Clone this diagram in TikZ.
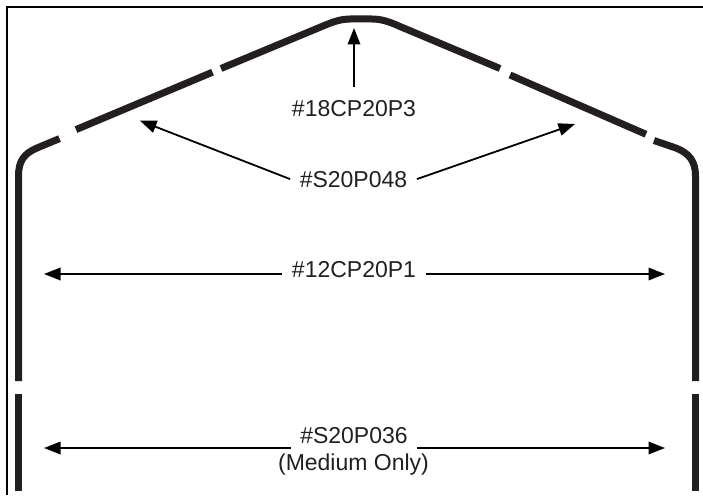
\documentclass[tikz,border=0pt]{standalone}
\usepackage{fontspec}
\setmainfont{Liberation Sans}
\usetikzlibrary{arrows.meta}
\definecolor{ink}{HTML}{231F20}
\tikzset{
  x=1pt,y=-1pt,
  hood/.style={draw=ink,line width=7pt,line cap=butt,line join=round},
  framing/.style={draw=black,line width=2pt,line join=miter},
  pointer/.style={draw=black,line width=1.8pt,-{Triangle[length=16.5pt,width=12.5pt]}},
  lab/.style={font=\fontsize{23}{27}\selectfont,text=ink,anchor=base,inner xsep=9.5pt,inner ysep=0pt},
}
\begin{document}
\begin{tikzpicture}
\useasboundingbox (0,0) rectangle (703,495);
% frame
\draw[framing] (703,7) -- (7,7) -- (7,495);
% hood outline
\draw[hood] (18.5,381) -- (18.5,176) .. controls (18.5,161) and (24,153.5) .. (37,148) -- (59.5,138.6);
\draw[hood] (76,129.6) -- (212.5,72.2);
\draw[hood] (221,68.5) -- (323,26) .. controls (335,21) and (342,19) .. (350,19) -- (372,19)
  .. controls (380,19) and (388,21) .. (400,26.5) -- (500,68.5);
\draw[hood] (510,75) -- (646,134.3);
\draw[hood] (654,140.5) -- (676.7,148.3) .. controls (689,153.5) and (695.5,161) .. (695.5,176) -- (695.5,381);
\draw[hood] (18.5,393.5) -- (18.5,491);
\draw[hood] (695.5,393.5) -- (695.5,491);
% labels
\node[lab,inner ysep=13pt] (n18) at (354,116) {\#18CP20P3};
\node[lab] (n48) at (353.5,187) {\#S20P048};
\node[lab] (n12) at (354,277) {\#12CP20P1};
\node[lab] (n36) at (354,443) {\#S20P036};
\node[lab] (med) at (353.5,470) {(Medium Only)};
% arrow targets
\coordinate (apex) at (354,28);
\coordinate (hl) at (140,120.7);
\coordinate (hr) at (575,124);
\coordinate (a1) at (44,274);
\coordinate (b1) at (665,274);
\coordinate (a2) at (44,448);
\coordinate (b2) at (665,448);
% arrows
\draw[pointer] (n18.north -| apex) -- (apex);
\draw[pointer] (n48.west) -- (hl);
\draw[pointer] (n48.east) -- (hr);
\draw[pointer] (n12.west |- a1) -- (a1);
\draw[pointer] (n12.east |- b1) -- (b1);
\draw[pointer] (n36.west |- a2) -- (a2);
\draw[pointer] (n36.east |- b2) -- (b2);
\end{tikzpicture}
\end{document}
